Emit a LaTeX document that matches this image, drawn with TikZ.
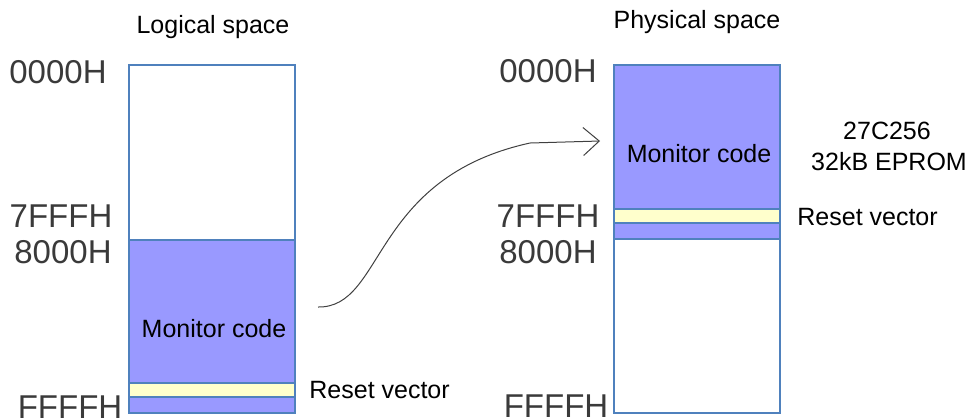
\documentclass[tikz,border=0pt]{standalone}
\usepackage{fontspec}
\setmainfont{Liberation Sans}
\usetikzlibrary{arrows.meta}
\definecolor{memblue}{HTML}{9999FF}
\definecolor{memyellow}{HTML}{FFFFCC}
\definecolor{memedge}{HTML}{4F81BD}
\definecolor{addrgray}{HTML}{3A3A3A}

\begin{document}
\begin{tikzpicture}[x=0.5pt,y=-0.5pt,
	blk/.style={draw=memedge, line width=0.7pt},
	addr/.style={anchor=base, inner sep=0pt, text=addrgray, font=\fontsize{16.5}{18}\selectfont},
	lbl/.style={anchor=base, inner sep=0pt, font=\fontsize{12.5}{14}\selectfont}]
	\useasboundingbox (0,0) rectangle (977,419);

	% logical space
	\draw[blk, fill=white] (129,65) rectangle (295,240);
	\draw[blk, fill=memblue] (129,240) rectangle (295,383);
	\draw[blk, fill=memyellow] (129,383) rectangle (295,397);
	\draw[blk, fill=memblue] (129,397) rectangle (295,413);

	\node[lbl] (logtitle) at (213,33) {Logical space};
	\node[lbl] (logcode) at (214,337) {Monitor code};
	\node[lbl, anchor=base west] (logreset) at (309,398) {Reset vector};

	\node[addr] (log0000) at (58,83) {0000H};
	\node[addr] (log7fff) at (61,227) {7FFFH};
	\node[addr] (log8000) at (63,263) {8000H};
	\node[addr] (logffff) at (70,418) {FFFFH};

	% physical space
	\draw[blk, fill=memblue] (614,65) rectangle (780,209);
	\draw[blk, fill=memyellow] (614,209) rectangle (780,223);
	\draw[blk, fill=memblue] (614,223) rectangle (780,239);
	\draw[blk, fill=white] (614,239) rectangle (780,413);

	\node[lbl] (phytitle) at (697,28) {Physical space};
	\node[lbl] (phycode) at (699,162) {Monitor code};
	\node[lbl, anchor=base west] (phyreset) at (797,225) {Reset vector};
	\node[lbl] (eprom) at (887,139) {27C256};
	\node[lbl] (eprom2) at (889,170) {32kB EPROM};

	\node[addr] (phy0000) at (548,82) {0000H};
	\node[addr] (phy7fff) at (548,227) {7FFFH};
	\node[addr] (phy8000) at (548,263) {8000H};
	\node[addr] (phyffff) at (556,417) {FFFFH};

	% mapping
	\coordinate (src) at (318,307);
	\coordinate (dst) at (600,141);
	\draw[black!75, line width=0.5pt, -{Straight Barb[length=8pt, width=14pt]}]
		(src) .. controls (385,308) and (370,178) .. (530,143) -- (dst);
\end{tikzpicture}
\end{document}
